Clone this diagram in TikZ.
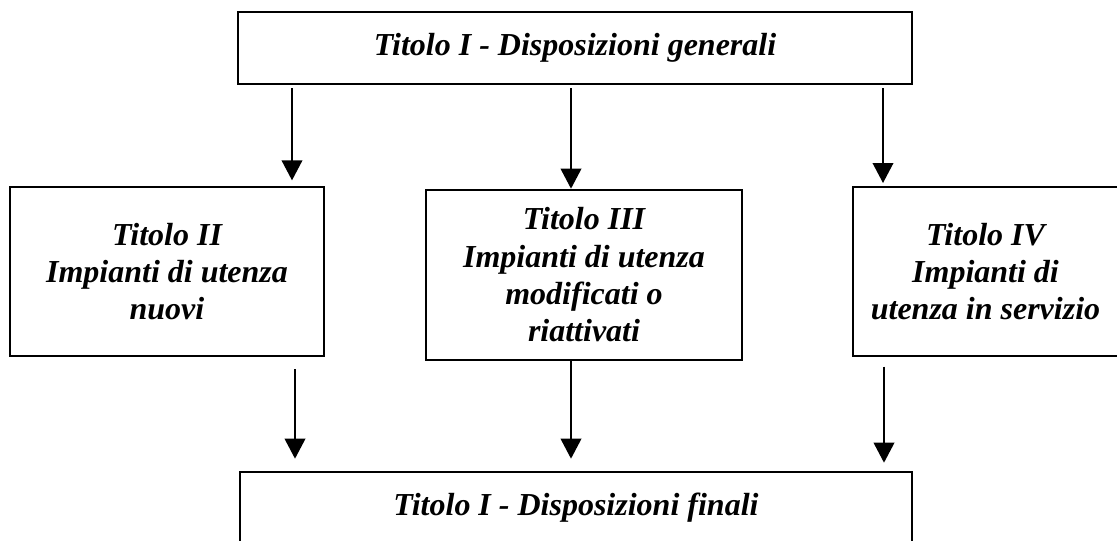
\documentclass[tikz,border=0pt]{standalone}
\usepackage{fontspec}
\setmainfont{Liberation Serif}
\usetikzlibrary{arrows.meta}
\begin{document}
\begin{tikzpicture}[x=0.75pt,y=-0.75pt,
  box/.style={draw,line width=2pt,inner sep=0pt,outer sep=0pt,align=center,
    font=\fontsize{24}{28}\selectfont\bfseries\itshape},
  arr/.style={line width=1.2pt,-{Triangle[width=15.5pt,length=15pt]}}]
\useasboundingbox (0,0) rectangle (1117,540);
\node[box,minimum width=674*0.75pt,minimum height=72*0.75pt] (top) at (575,48) {Titolo I - Disposizioni generali};
\node[box,minimum width=314*0.75pt,minimum height=169*0.75pt] (b1) at (167,271.5) {Titolo II\\Impianti di utenza\\nuovi};
\node[box,minimum width=316*0.75pt,minimum height=170*0.75pt] (b2) at (584,275) {Titolo III\\Impianti di utenza\\modificati o\\riattivati};
\node[box,minimum width=265*0.75pt,minimum height=169*0.75pt] (b3) at (985.5,271.5) {Titolo IV\\Impianti di\\utenza in servizio};
\node[box,minimum width=672*0.75pt,minimum height=71*0.75pt] (bot) at (576,507.5) {Titolo I - Disposizioni finali};
\coordinate (x1) at (292,0);
\coordinate (x2) at (571,0);
\coordinate (x3) at (883,0);
\coordinate (y1) at (295,0);
\coordinate (y2) at (571,0);
\coordinate (y3) at (884,0);
\draw[arr,shorten <=3pt,shorten >=5pt] (top.south -| x1) -- (b1.north -| x1);
\draw[arr,shorten <=3pt,shorten >=1pt] (top.south -| x2) -- (b2.north -| x2);
\draw[arr,shorten <=3pt,shorten >=3pt] (top.south -| x3) -- (b3.north -| x3);
\draw[arr,shorten <=10pt,shorten >=10pt] (b1.south -| y1) -- (bot.north -| y1);
\draw[arr,shorten <=1pt,shorten >=10pt] (b2.south -| y2) -- (bot.north -| y2);
\draw[arr,shorten <=8pt,shorten >=7pt] (b3.south -| y3) -- (bot.north -| y3);
\end{tikzpicture}
\end{document}
